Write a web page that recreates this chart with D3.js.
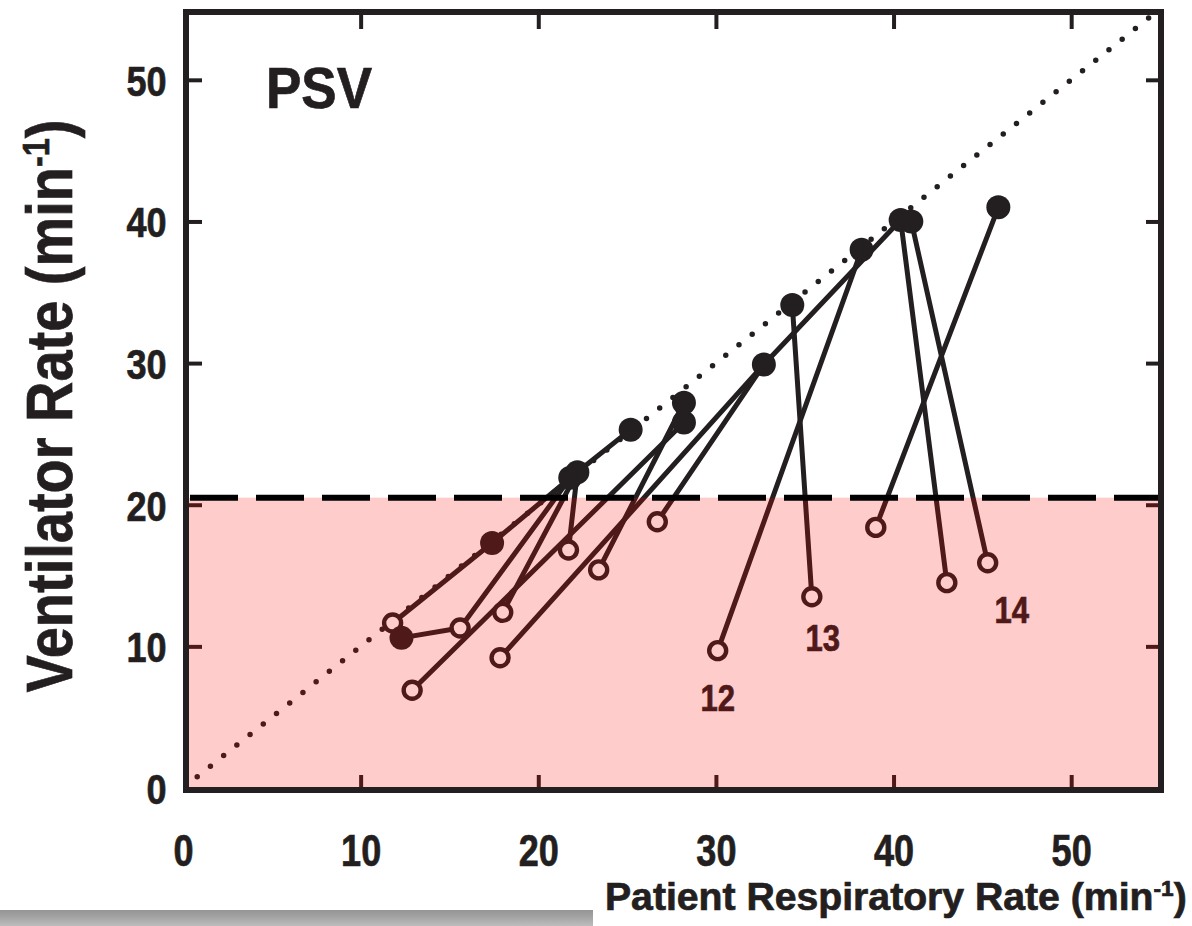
<!DOCTYPE html>
<html>
<head>
<meta charset="utf-8">
<script src="https://cdn.jsdelivr.net/npm/d3@7"></script>
<style>
  body { margin: 0; background: #fff; }
  svg { display: block; }
  text { font-family: "Liberation Sans", Arial, Helvetica, sans-serif; font-weight: bold; fill: #231f20; stroke: #231f20; stroke-width: 0.7px; }
</style>
</head>
<body>
<svg id="chart" width="1192" height="926"></svg>
<script>
// ---------------- data ----------------
const xTicks = [0, 10, 20, 30, 40, 50];
const yTicks = [0, 10, 20, 30, 40, 50];
const innerTicks = [10, 20, 30, 40, 50];
const xDomain = [0, 55];
const yDomain = [0, 55];
const backupRate = 20.5;            // dashed horizontal line (ventilator back-up rate)

// open circles
const openX = [11.8, 15.6, 12.9, 17.85, 18.0, 21.7, 23.4, 26.7, 30.1, 35.4, 39.0, 43.0, 45.3];
const openY = [11.65, 11.3, 6.9, 9.2, 12.4, 16.8, 15.4, 18.8, 9.7, 13.5, 18.4, 14.5, 15.9];
// filled circles
const filledX = [12.3, 17.4, 21.8, 22.2, 25.2, 28.2, 28.2, 32.7, 34.3, 38.2, 40.4, 41.0, 45.9];
const filledY = [10.6, 17.3, 21.9, 22.3, 25.3, 27.2, 25.8, 29.9, 34.1, 38.0, 40.1, 40.0, 41.0];
// connections between points ("o" = open, "f" = filled, with index)
const links = [
  ["o0", "f1"], ["f1", "f2"], ["f2", "f4"], ["f0", "o1"], ["o1", "f2"],
  ["o2", "f6"], ["o3", "f7"], ["o4", "f3"], ["o5", "f3"], ["o6", "f5"],
  ["o7", "f7"], ["f7", "f10"], ["o8", "f9"], ["o9", "f8"], ["o10", "f12"],
  ["o11", "f10"], ["o12", "f11"]
];
const patientLabels = ["12", "13", "14"];
const patientOpenIdx = [8, 9, 12];

const panelLabel = "PSV";
const xTitle = "Patient Respiratory Rate (min";
const yTitle = "Ventilator Rate (min";
const unitSup = "-1";

// ---------------- drawing ----------------
const svg = d3.select("#chart");
const W = 1192, H = 926;
svg.append("rect").attr("width", W).attr("height", H).attr("fill", "#fff");

const x = d3.scaleLinear().domain(xDomain).range([183, 1160]);
const y = d3.scaleLinear().domain(yDomain).range([788, 9]);

const frame = { l: 186, r: 1161, t: 12, b: 790 };
const ink = "#231f20";

function pt(key) {
  const idx = +key.slice(1);
  return key[0] === "o" ? [openX[idx], openY[idx]] : [filledX[idx], filledY[idx]];
}

// dotted identity line
svg.append("line")
  .attr("x1", x(0.8)).attr("y1", y(0.8))
  .attr("x2", x(55)).attr("y2", y(55))
  .attr("stroke", ink).attr("stroke-width", 5.5)
  .attr("stroke-linecap", "round")
  .attr("stroke-dasharray", "0 16.9");

// connection lines
svg.append("g").selectAll("line").data(links).join("line")
  .attr("x1", d => x(pt(d[0])[0])).attr("y1", d => y(pt(d[0])[1]))
  .attr("x2", d => x(pt(d[1])[0])).attr("y2", d => y(pt(d[1])[1]))
  .attr("stroke", ink).attr("stroke-width", 5).attr("stroke-linecap", "round");

// open circles
svg.append("g").selectAll("circle").data(openX.map((v, i) => [v, openY[i]])).join("circle")
  .attr("cx", d => x(d[0])).attr("cy", d => y(d[1])).attr("r", 8.5)
  .attr("fill", "#fff").attr("stroke", ink).attr("stroke-width", 4.4);

// filled circles
svg.append("g").selectAll("circle").data(filledX.map((v, i) => [v, filledY[i]])).join("circle")
  .attr("cx", d => x(d[0])).attr("cy", d => y(d[1])).attr("r", 12)
  .attr("fill", ink);

// patient labels
svg.append("g").selectAll("text").data(patientLabels).join("text")
  .attr("transform", (d, i) => {
    const k = patientOpenIdx[i];
    const dx = [0, 11, 24][i], dy = [60, 54, 60][i];
    return `translate(${x(openX[k]) + dx},${y(openY[k]) + dy}) scale(0.84,1)`;
  })
  .attr("text-anchor", "middle")
  .attr("font-size", 37)
  .text(d => d);

// inward ticks (all four sides)
function tickStyle(g) {
  g.select(".domain").remove();
  g.selectAll(".tick line").attr("stroke", ink).attr("stroke-width", 4);
  g.selectAll(".tick text").remove();
}
svg.append("g").attr("transform", `translate(0,${frame.b})`)
  .call(d3.axisBottom(x).tickValues(innerTicks).tickSize(-15)).call(tickStyle);
svg.append("g").attr("transform", `translate(0,${frame.t})`)
  .call(d3.axisTop(x).tickValues(innerTicks).tickSize(-17)).call(tickStyle);
svg.append("g").attr("transform", `translate(${frame.l},0)`)
  .call(d3.axisLeft(y).tickValues(innerTicks).tickSize(-16)).call(tickStyle);
svg.append("g").attr("transform", `translate(${frame.r},0)`)
  .call(d3.axisRight(y).tickValues(innerTicks).tickSize(-15)).call(tickStyle);

// pink region below back-up rate (tints everything beneath it)
svg.append("rect")
  .attr("x", x(0)).attr("y", y(backupRate))
  .attr("width", x(55) - x(0)).attr("height", y(0) - y(backupRate) + 2)
  .attr("fill", "#ff0000").attr("opacity", 0.2);

// dashed back-up rate line
svg.append("line")
  .attr("x1", 190).attr("x2", frame.r)
  .attr("y1", y(backupRate)).attr("y2", y(backupRate))
  .attr("stroke", "#000").attr("stroke-width", 6)
  .attr("stroke-dasharray", "48 18");

// frame
svg.append("rect")
  .attr("x", frame.l).attr("y", frame.t)
  .attr("width", frame.r - frame.l).attr("height", frame.b - frame.t)
  .attr("fill", "none").attr("stroke", ink).attr("stroke-width", 6);

// tick labels
const xLab = svg.append("g").attr("transform", `translate(0,${frame.b})`)
  .call(d3.axisBottom(x).tickValues(xTicks).tickSize(0).tickPadding(45));
xLab.select(".domain").remove();
xLab.selectAll("text").attr("font-size", 44).attr("fill", ink)
  .attr("transform", "scale(0.82,1)");
xLab.attr("font-family", null).attr("font-size", null);

const yLab = svg.append("g").attr("transform", `translate(${frame.l},0)`)
  .call(d3.axisLeft(y).tickValues(yTicks).tickSize(0).tickPadding(23));
yLab.select(".domain").remove();
yLab.selectAll("text").attr("font-size", 43).attr("fill", ink)
  .attr("dy", "0.36em")
  .attr("transform", "scale(0.84,1)");
yLab.attr("font-family", null).attr("font-size", null);

// panel label
svg.append("text").attr("transform", "translate(266,108) scale(0.93,1)")
  .attr("font-size", 57).text(panelLabel);

// axis titles with superscript
function titleWithSup(g, main, fs) {
  const t = g.append("text").attr("font-size", fs);
  t.append("tspan").text(main);
  t.append("tspan").attr("font-size", fs * 0.58).attr("dy", -fs * 0.36).text(unitSup);
  t.append("tspan").attr("dy", fs * 0.36).text(")");
  return t;
}
// x title
const xt = svg.append("g");
const xtText = titleWithSup(xt, xTitle, 38);
const xw = xtText.node().getComputedTextLength();
xt.attr("transform", `translate(605,910) scale(${582 / xw},1)`);

// y title
const yt = svg.append("g");
const ytText = titleWithSup(yt, yTitle, 64).attr("text-anchor", "middle");
const yw = ytText.node().getComputedTextLength();
yt.attr("transform", `translate(72,406) rotate(-90) scale(${573 / yw},1)`);

// grey strip bottom-left
const defs = svg.append("defs");
const grad = defs.append("linearGradient").attr("id", "strip").attr("x1", 0).attr("y1", 0).attr("x2", 0).attr("y2", 1);
grad.append("stop").attr("offset", "0%").attr("stop-color", "#959595");
grad.append("stop").attr("offset", "45%").attr("stop-color", "#a4a4a4");
grad.append("stop").attr("offset", "100%").attr("stop-color", "#bdbdbd");
svg.append("rect").attr("x", 0).attr("y", 910).attr("width", 593).attr("height", 16)
  .attr("fill", "url(#strip)");
</script>
</body>
</html>
